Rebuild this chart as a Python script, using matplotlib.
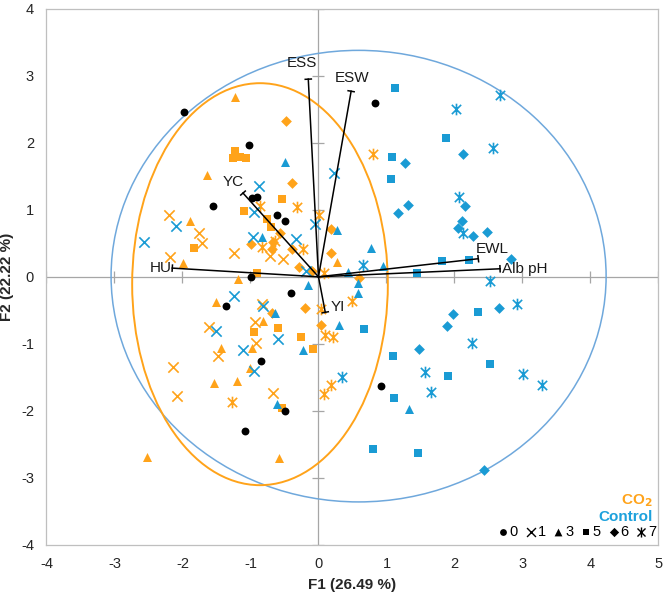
import matplotlib
matplotlib.use('Agg')
import matplotlib.pyplot as plt
from matplotlib.patches import Ellipse
from matplotlib.path import Path
import numpy as np

plt.rcParams['font.family'] = ['Liberation Sans', 'DejaVu Sans']
plt.rcParams['axes.unicode_minus'] = False

# ---------------- data (F1, F2 scores) ----------------
# time 0 (black circles, both groups)
t0_f1 = [-1.98, 0.83, -1.02, -1.55, -0.98, -0.90, -0.61, -0.49, -0.99, -0.40, -1.36, -0.85, -0.49, -1.08, 0.92]
t0_f2 = [2.46, 2.59, 1.97, 1.06, 1.18, 1.19, 0.92, 0.83, 0.00, -0.24, -0.44, -1.26, -2.00, -2.30, -1.63]

# CO2 group
co2_t1_f1 = [-2.20, -1.76, -1.71, -1.24, -2.18, -0.71, -0.52, -0.83, -0.93, -1.61, -0.92, -1.48, -2.14, -2.08, -0.67]
co2_t1_f2 = [0.92, 0.65, 0.50, 0.36, 0.30, 0.31, 0.27, -0.41, -0.67, -0.75, -0.99, -1.18, -1.34, -1.78, -1.73]
co2_t3_f1 = [-1.23, -1.64, -1.89, -1.99, -1.18, -1.51, -0.82, -1.43, -0.98, -1.01, -1.54, -1.20, -2.52, -0.58, 0.27]
co2_t3_f2 = [2.68, 1.52, 0.83, 0.21, -0.03, -0.37, -0.66, -1.06, -1.06, -1.36, -1.58, -1.55, -2.69, -2.70, 0.22]
co2_t5_f1 = [-1.23, -1.26, -1.15, -1.07, -0.54, -1.10, -0.76, -0.70, -0.90, -1.83, -0.95, -0.60, -0.26, -0.08, -0.54]
co2_t5_f2 = [1.88, 1.77, 1.79, 1.77, 1.16, 0.98, 0.86, 0.74, 0.06, 0.43, -0.82, -0.76, -0.90, -1.08, -1.96]
co2_t6_f1 = [-0.48, -0.39, -0.99, -0.67, -0.57, -0.39, -0.68, -0.29, -0.10, 0.18, 0.18, 0.60, -0.20, 0.04, -0.68]
co2_t6_f2 = [2.33, 1.40, 0.49, 0.52, 0.65, 0.41, 0.41, 0.15, 0.09, 0.71, 0.36, -0.02, -0.47, -0.72, -0.54]
co2_t7_f1 = [-0.86, -0.32, 0.01, -0.83, -0.23, -0.64, 0.08, 0.80, 0.49, 0.04, 0.10, 0.21, 0.18, 0.08, -1.27]
co2_t7_f2 = [1.06, 1.04, 0.92, 0.44, 0.41, 0.53, 0.06, 1.83, -0.36, -0.48, -0.87, -0.90, -1.61, -1.75, -1.87]

# Control group
ctl_t1_f1 = [-0.88, -0.95, -2.10, -2.57, -0.96, -0.33, -0.05, 0.23, -0.18, -1.24, -0.82, -1.51, -0.60, -1.11, -0.95]
ctl_t1_f2 = [1.36, 0.97, 0.76, 0.52, 0.59, 0.56, 0.79, 1.55, 0.09, -0.29, -0.44, -0.81, -0.93, -1.09, -1.40]
ctl_t3_f1 = [-0.49, -0.83, 0.27, 0.77, 0.43, 0.58, 0.58, -0.15, 0.95, 0.30, -0.23, 1.33, -0.64, -0.61]
ctl_t3_f2 = [1.71, 0.59, 0.70, 0.43, 0.07, -0.09, -0.24, -0.12, 0.16, -0.72, -1.09, -1.97, -0.54, -1.90]
ctl_t5_f1 = [1.13, 1.88, 1.08, 1.07, 1.82, 2.21, 1.45, 0.67, 2.35, 1.10, 1.90, 2.52, 1.11, 0.80, 1.46]
ctl_t5_f2 = [2.82, 2.07, 1.79, 1.46, 0.24, 0.25, 0.06, -0.78, -0.53, -1.18, -1.48, -1.30, -1.81, -2.57, -2.63]
ctl_t6_f1 = [2.13, 1.27, 1.32, 1.17, 2.15, 2.11, 2.05, 2.27, 2.48, 2.83, 1.98, 1.89, 2.65, 1.48, 2.43]
ctl_t6_f2 = [1.83, 1.70, 1.07, 0.95, 1.06, 0.83, 0.73, 0.61, 0.67, 0.27, -0.56, -0.74, -0.47, -1.08, -2.88]
ctl_t7_f1 = [2.67, 2.02, 2.57, 2.07, 2.13, 2.52, 2.92, 2.26, 1.57, 1.65, 3.01, 3.29, 0.35, 0.65]
ctl_t7_f2 = [2.71, 2.50, 1.92, 1.19, 0.65, -0.06, -0.41, -0.99, -1.42, -1.72, -1.45, -1.61, -1.49, 0.18]

# loadings (variables)
var_names = ['ESS', 'ESW', 'YC', 'HU', 'EWL', 'Alb pH', 'YI']
var_f1 = [-0.15, 0.48, -1.11, -2.15, 2.35, 2.67, 0.10]
var_f2 = [2.95, 2.77, 1.25, 0.13, 0.27, 0.12, -0.53]
lab_f1 = [-0.24, 0.49, -1.26, -2.32, 2.55, 3.04, 0.29]
lab_f2 = [3.19, 2.97, 1.41, 0.13, 0.41, 0.12, -0.45]

# confidence ellipses: centre x, centre y, semi-axis x, semi-axis y
ell_ctl = [0.59, 0.01, 3.64, 3.37]
ell_co2 = [-0.86, -0.11, 1.88, 3.00]

ticks = [-4, -3, -2, -1, 0, 1, 2, 3, 4, 5]
yticks = [-4, -3, -2, -1, 0, 1, 2, 3, 4]
time_labels = ['0', '1', '3', '5', '6', '7']

ORANGE = '#FFA31A'
BLUE = '#1A9BD4'
BLUE_ELL = '#6FA8DC'

# asterisk marker: vertical line plus X
ast = Path([(0, -1), (0, 1), (-0.8, -0.8), (0.8, 0.8), (-0.8, 0.8), (0.8, -0.8)],
           [Path.MOVETO, Path.LINETO, Path.MOVETO, Path.LINETO, Path.MOVETO, Path.LINETO])

mk = {'0': ('o', 32), '1': ('x', 55), '3': ('^', 42), '5': ('s', 32), '6': ('D', 30), '7': (ast, 70)}

fig = plt.figure(figsize=(6.66, 5.96), dpi=100)
ax = fig.add_axes([0.0698, 0.0859, 0.9189, 0.8993])
ax.set_xlim(-4, 5)
ax.set_ylim(-4, 4)

# axis lines through origin with small tick marks
ax.axhline(0, color='#A6A6A6', lw=0.9, zorder=1)
ax.axvline(0, color='#A6A6A6', lw=0.9, zorder=1)
ax.plot(np.zeros(len(yticks)), yticks, ls='none', marker='_', ms=9, mew=0.9, color='#A6A6A6', zorder=1)
ax.plot(ticks, np.zeros(len(ticks)), ls='none', marker='|', ms=9, mew=0.9, color='#A6A6A6', zorder=1)

# ellipses
ax.add_patch(Ellipse((ell_ctl[0], ell_ctl[1]), 2 * ell_ctl[2], 2 * ell_ctl[3], fill=False,
                     edgecolor=BLUE_ELL, lw=1.1, zorder=2))
ax.add_patch(Ellipse((ell_co2[0], ell_co2[1]), 2 * ell_co2[2], 2 * ell_co2[3], fill=False,
                     edgecolor=ORANGE, lw=1.4, zorder=2))


def draw(xs, ys, key, color):
    m, s = mk[key]
    if key in ('1', '7'):
        ax.scatter(xs, ys, marker=m, s=s, c=color, linewidths=1.2, zorder=4)
    else:
        ax.scatter(xs, ys, marker=m, s=s, c=color, linewidths=0, zorder=4)


draw(co2_t1_f1, co2_t1_f2, '1', ORANGE)
draw(co2_t3_f1, co2_t3_f2, '3', ORANGE)
draw(co2_t5_f1, co2_t5_f2, '5', ORANGE)
draw(co2_t6_f1, co2_t6_f2, '6', ORANGE)
draw(co2_t7_f1, co2_t7_f2, '7', ORANGE)
draw(ctl_t1_f1, ctl_t1_f2, '1', BLUE)
draw(ctl_t3_f1, ctl_t3_f2, '3', BLUE)
draw(ctl_t5_f1, ctl_t5_f2, '5', BLUE)
draw(ctl_t6_f1, ctl_t6_f2, '6', BLUE)
draw(ctl_t7_f1, ctl_t7_f2, '7', BLUE)
draw(t0_f1, t0_f2, '0', 'black')

# loading vectors with end caps
cap = 0.045
for name, vx, vy, lx, ly in zip(var_names, var_f1, var_f2, lab_f1, lab_f2):
    ax.plot([0, vx], [0, vy], color='black', lw=1.1, zorder=5)
    L = np.hypot(vx, vy)
    px, py = -vy / L * cap, vx / L * cap
    ax.plot([vx - px, vx + px], [vy - py, vy + py], color='black', lw=1.1, zorder=5)
    ax.text(lx, ly, name, fontsize=11, ha='center', va='center', color='#1a1a1a', zorder=6)

# frame and ticks
for sp in ax.spines.values():
    sp.set_color('#BFBFBF')
    sp.set_linewidth(0.9)
ax.set_xticks(ticks)
ax.set_yticks(yticks)
ax.tick_params(length=0, labelsize=10.5, labelcolor='#262626', pad=9)
ax.set_xlabel('F1 (26.49 %)', fontsize=11, fontweight='bold', labelpad=5, color='#262626')
ax.set_ylabel('F2 (22.22 %)', fontsize=11, fontweight='bold', labelpad=5, color='#262626')

# group labels
ax.text(0.991, 0.082, r'CO$_\mathbf{2}$', transform=ax.transAxes, ha='right', va='center',
        fontsize=11, fontweight='bold', color=ORANGE)
ax.text(0.991, 0.052, 'Control', transform=ax.transAxes, ha='right', va='center',
        fontsize=11, fontweight='bold', color='#1DA1DC')

# time legend
x0, step, yl = 0.746, 0.0452, 0.024
for i, key in enumerate(time_labels):
    m, s = mk[key]
    xm = x0 + i * step
    lw = 1.0 if key in ('1', '7') else 0
    ax.scatter([xm], [yl], marker=m, s=s * 0.75, c='black', linewidths=lw,
               transform=ax.transAxes, zorder=6, clip_on=False)
    ax.text(xm + 0.011, yl, key, transform=ax.transAxes, ha='left', va='center',
            fontsize=10.5, color='black')

fig.savefig('out.png', dpi=100)
